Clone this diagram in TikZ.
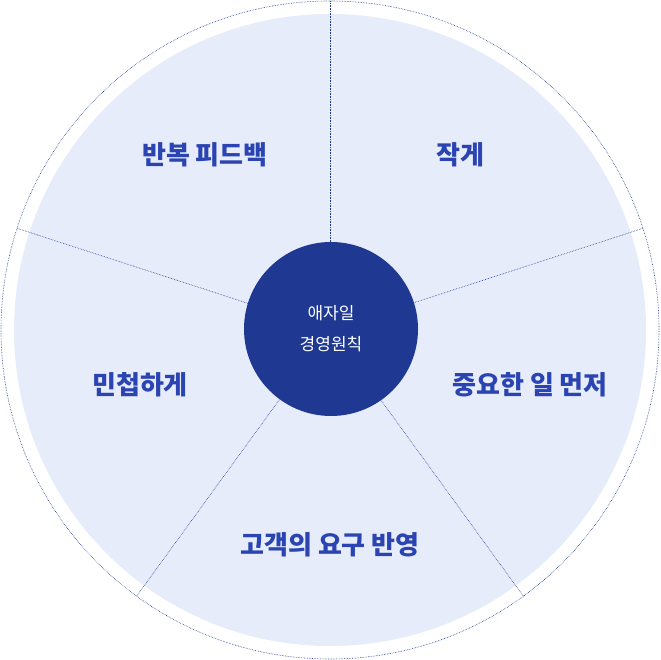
\documentclass[tikz,border=0pt]{standalone}
\usepackage{fontspec}
\newfontfamily\cjk{Noto Sans CJK KR}
\definecolor{fillblue}{HTML}{E7ECFB}
\definecolor{darkblue}{HTML}{1F3891}
\definecolor{textblue}{HTML}{2A44B2}
\tikzset{
  divider/.style={darkblue,densely dotted,line width=0.6pt},
  label/.style={textblue,font=\cjk\bfseries\fontsize{26}{30}\selectfont}
}
\begin{document}
\begin{tikzpicture}[x=1pt,y=1pt]
    \useasboundingbox (0,0) rectangle (660,660);
    % Outer ring and fill
    \draw[divider] (330,330) circle (329);
    \fill[fillblue] (330,330) circle (316);
    % Dividers
    \foreach \a in {90,18,-54,-126,162}
        \draw[divider] (330,330) -- ++(\a:329);
    % Centre
    \node[circle,fill=darkblue,minimum size=174,inner sep=0,text=white,align=center,
      font=\cjk\fontsize{17}{31}\selectfont] (core) at (331,331) {애자일\\경영원칙};
    % Principles
    \node[label] (small) at (460,505) {작게};
    \node[label] (first) at (530,275) {중요한 일 먼저};
    \node[label] (customer) at (330,115) {고객의 요구 반영};
    \node[label] (agile) at (140,275) {민첩하게};
    \node[label] (feedback) at (205,505) {반복 피드백};
\end{tikzpicture}
\end{document}
